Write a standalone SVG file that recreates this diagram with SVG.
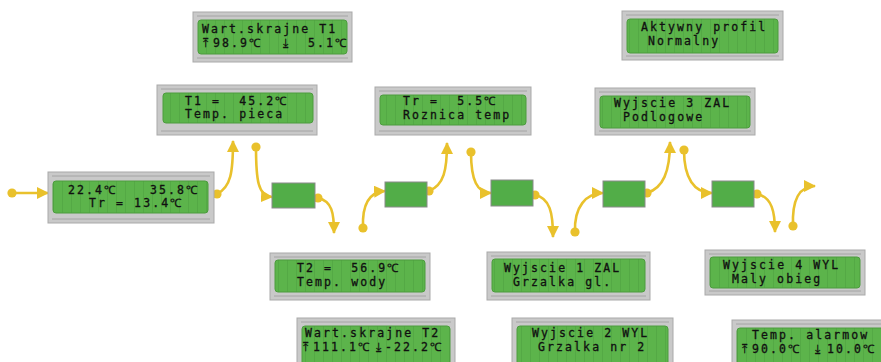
<svg xmlns="http://www.w3.org/2000/svg" width="881" height="362" viewBox="0 0 881 362">
<style>
.frame{fill:#c9c9c9;stroke:#a9a9a9;stroke-width:1}
.rule{stroke:#a4a4a4;stroke-width:1;fill:none}
.lcd{fill:url(#cells);stroke:#4c9c3e;stroke-width:1}
.blk{fill:#52ad48;stroke:#8a8a8a;stroke-width:1}
.t{font-family:"DejaVu Sans Mono","Liberation Mono",monospace;font-size:11.5px;fill:#101010;stroke:#101010;stroke-width:0.3;letter-spacing:2.1px;white-space:pre}
.c{fill:none;stroke:#e9c12c;stroke-width:2.6}
</style>
<defs>
<pattern id="cells" patternUnits="userSpaceOnUse" x="0" y="0" width="9" height="10">
<rect width="9" height="10" fill="#5cb44b"/>
<rect x="8" width="1" height="10" fill="#54a945"/>
</pattern>
<marker id="ah" viewBox="0 0 12 12" refX="11" refY="6" markerWidth="12" markerHeight="12" markerUnits="userSpaceOnUse" orient="auto">
<path d="M0,0 L12,6 L0,12 z" fill="#e9c12c"/>
</marker>
<marker id="dt" viewBox="0 0 10 10" refX="5" refY="5" markerWidth="10" markerHeight="10" markerUnits="userSpaceOnUse">
<circle cx="5" cy="5" r="4.6" fill="#e9c12c"/>
</marker>
</defs>

<g id="connectors">
<path class="c" marker-start="url(#dt)" marker-end="url(#ah)" d="M12,193 H48"/>
<path class="c" marker-start="url(#dt)" marker-end="url(#ah)" d="M217,194 C231,187 233,172 233,141"/>
<path class="c" marker-start="url(#dt)" marker-end="url(#ah)" d="M256,147 C256,180 258,196 272,197"/>
<path class="c" marker-start="url(#dt)" marker-end="url(#ah)" d="M318,198 C332,201 334,213 334,233"/>
<path class="c" marker-start="url(#dt)" marker-end="url(#ah)" d="M363,228 C362,205 369,192 385,191"/>
<path class="c" marker-start="url(#dt)" marker-end="url(#ah)" d="M429,191 C444,185 447,170 447,143"/>
<path class="c" marker-start="url(#dt)" marker-end="url(#ah)" d="M471,152 C471,180 477,193 491,193"/>
<path class="c" marker-start="url(#dt)" marker-end="url(#ah)" d="M535,195 C550,198 553,213 553,237"/>
<path class="c" marker-start="url(#dt)" marker-end="url(#ah)" d="M575,232 C574,207 586,193 603,193"/>
<path class="c" marker-start="url(#dt)" marker-end="url(#ah)" d="M647,193 C663,188 670,172 670,142"/>
<path class="c" marker-start="url(#dt)" marker-end="url(#ah)" d="M684,150 C684,178 694,193 712,193"/>
<path class="c" marker-start="url(#dt)" marker-end="url(#ah)" d="M757,194 C772,197 775,212 775,232"/>
<path class="c" marker-start="url(#dt)" marker-end="url(#ah)" d="M793,226 C792,200 799,186 815,186"/>
</g>

<g id="blk1"><rect class="blk" x="272" y="183" width="43" height="25"/></g>
<g id="blk2"><rect class="blk" x="385" y="182" width="42" height="25"/></g>
<g id="blk3"><rect class="blk" x="491" y="180" width="42" height="26"/></g>
<g id="blk4"><rect class="blk" x="603" y="181" width="42" height="26"/></g>
<g id="blk5"><rect class="blk" x="712" y="181" width="42" height="26"/></g>

<g id="lcd-main">
<rect class="frame" x="48" y="172" width="166" height="51"/>
<path class="rule" d="M52,176 H210 M52,219 H210"/>
<rect class="lcd" x="53" y="181" width="155" height="32" rx="3"/>
<text class="t"><tspan x="68" y="193.5">22.4℃</tspan><tspan x="150" y="193.5">35.8℃</tspan><tspan x="89" y="207">Tr = 13.4℃</tspan></text>
</g>

<g id="lcd-wart-t1">
<rect class="frame" x="193" y="12" width="159" height="50"/>
<path class="rule" d="M197,16 H348 M197,58 H348"/>
<rect class="lcd" x="198" y="20" width="149" height="34" rx="3"/>
<text class="t"><tspan x="202" y="33">Wart.skrajne T1</tspan><tspan x="203" y="46.5">⤒</tspan><tspan x="213" y="46.5">98.9℃</tspan><tspan x="283" y="46.5">⤓</tspan><tspan x="308" y="46.5">5.1℃</tspan></text>
</g>

<g id="lcd-t1">
<rect class="frame" x="157" y="85" width="160" height="50"/>
<path class="rule" d="M161,89 H313 M161,131 H313"/>
<rect class="lcd" x="163" y="93" width="150" height="30" rx="3"/>
<text class="t"><tspan x="185" y="104.5">T1 =  45.2℃</tspan><tspan x="185" y="118">Temp. pieca</tspan></text>
</g>

<g id="lcd-profil">
<rect class="frame" x="622" y="11" width="161" height="49"/>
<path class="rule" d="M626,15 H779 M626,56 H779"/>
<rect class="lcd" x="627" y="19" width="151" height="34" rx="3"/>
<text class="t"><tspan x="641" y="31">Aktywny profil</tspan><tspan x="648" y="44.5">Normalny</tspan></text>
</g>

<g id="lcd-tr">
<rect class="frame" x="375" y="87" width="156" height="48"/>
<path class="rule" d="M379,91 H527 M379,131 H527"/>
<rect class="lcd" x="380" y="95" width="146" height="30" rx="3"/>
<text class="t"><tspan x="403" y="105">Tr =  5.5℃</tspan><tspan x="403" y="118.5">Roznica temp</tspan></text>
</g>

<g id="lcd-wy3">
<rect class="frame" x="595" y="88" width="160" height="47"/>
<path class="rule" d="M599,92 H751 M599,131 H751"/>
<rect class="lcd" x="600" y="96" width="150" height="32" rx="3"/>
<text class="t"><tspan x="614" y="107">Wyjscie 3 ZAL</tspan><tspan x="623" y="120.5">Podlogowe</tspan></text>
</g>

<g id="lcd-t2">
<rect class="frame" x="270" y="253" width="160" height="47"/>
<path class="rule" d="M274,257 H426 M274,296 H426"/>
<rect class="lcd" x="275" y="260" width="150" height="32" rx="3"/>
<text class="t"><tspan x="297" y="272">T2 =  56.9℃</tspan><tspan x="297" y="285.5">Temp. wody</tspan></text>
</g>

<g id="lcd-wy1">
<rect class="frame" x="487" y="252" width="163" height="48"/>
<path class="rule" d="M491,256 H646 M491,296 H646"/>
<rect class="lcd" x="492" y="259" width="153" height="33" rx="3"/>
<text class="t"><tspan x="504" y="272">Wyjscie 1 ZAL</tspan><tspan x="513" y="285.5">Grzalka gl.</tspan></text>
</g>

<g id="lcd-wy4">
<rect class="frame" x="705" y="250" width="160" height="45"/>
<path class="rule" d="M709,254 H861 M709,291 H861"/>
<rect class="lcd" x="710" y="257" width="150" height="31" rx="3"/>
<text class="t"><tspan x="723" y="269">Wyjscie 4 WYL</tspan><tspan x="732" y="282.5">Maly obieg</tspan></text>
</g>

<g id="lcd-wart-t2">
<rect class="frame" x="297" y="318" width="158" height="50"/>
<path class="rule" d="M301,322 H451"/>
<rect class="lcd" x="302" y="326" width="148" height="40" rx="3"/>
<text class="t"><tspan x="305" y="337">Wart.skrajne T2</tspan><tspan x="303" y="350.5">⤒</tspan><tspan x="313" y="350.5">111.1℃</tspan><tspan x="376" y="350.5">⤓</tspan><tspan x="385" y="350.5">-22.2℃</tspan></text>
</g>

<g id="lcd-wy2">
<rect class="frame" x="512" y="318" width="161" height="50"/>
<path class="rule" d="M516,322 H669"/>
<rect class="lcd" x="517" y="326" width="151" height="40" rx="3"/>
<text class="t"><tspan x="532" y="337">Wyjscie 2 WYL</tspan><tspan x="538" y="350.5">Grzalka nr 2</tspan></text>
</g>

<g id="lcd-alarm">
<rect class="frame" x="732" y="320" width="160" height="50"/>
<path class="rule" d="M736,324 H881"/>
<rect class="lcd" x="737" y="328" width="150" height="40" rx="3"/>
<text class="t"><tspan x="752" y="339">Temp. alarmow</tspan><tspan x="742" y="352.5">⤒</tspan><tspan x="752" y="352.5">90.0℃</tspan><tspan x="815" y="352.5">⤓</tspan><tspan x="827" y="352.5">10.0℃</tspan></text>
</g>
</svg>
